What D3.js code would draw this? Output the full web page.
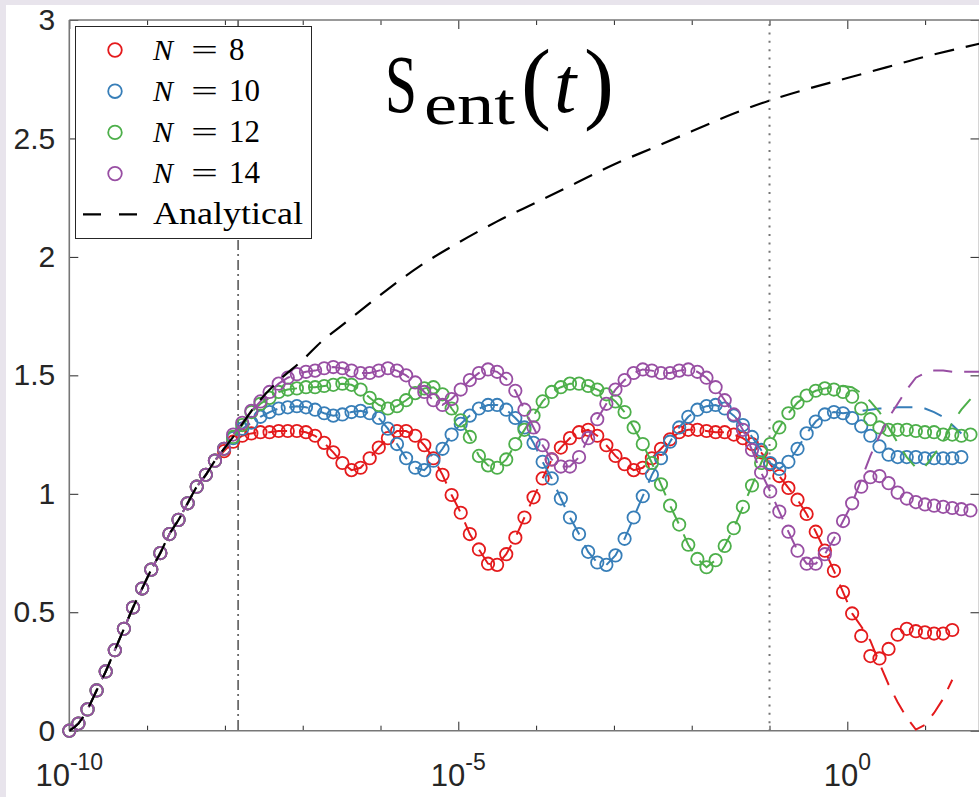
<!DOCTYPE html>
<html>
<head>
<meta charset="utf-8">
<script src="https://cdn.jsdelivr.net/npm/d3@7"></script>
<style>
  html, body { margin: 0; padding: 0; background: #e8e4ec; }
  svg { display: block; }
</style>
</head>
<body>
<svg id="chart" width="979" height="797"></svg>
<script>
// Sampling times (log10 t), shared by all system sizes
const logTime = [
  -10.000, -9.883, -9.766, -9.649, -9.532, -9.415, -9.298, -9.181, -9.064, -8.947,
  -8.830, -8.713, -8.596, -8.479, -8.362, -8.245, -8.128, -8.011, -7.894, -7.777,
  -7.660, -7.543, -7.426, -7.309, -7.192, -7.075, -6.958, -6.841, -6.724, -6.607,
  -6.490, -6.373, -6.256, -6.139, -6.022, -5.905, -5.788, -5.671, -5.554, -5.437,
  -5.320, -5.203, -5.086, -4.969, -4.852, -4.735, -4.618, -4.501, -4.384, -4.267,
  -4.150, -4.033, -3.916, -3.799, -3.682, -3.565, -3.448, -3.331, -3.214, -3.097,
  -2.980, -2.863, -2.746, -2.629, -2.512, -2.395, -2.278, -2.161, -2.044, -1.927,
  -1.810, -1.693, -1.576, -1.459, -1.342, -1.225, -1.108, -0.991, -0.874, -0.757,
  -0.640, -0.523, -0.406, -0.289, -0.172, -0.055, 0.062, 0.179, 0.296, 0.413,
  0.530, 0.647, 0.764, 0.881, 0.998, 1.115, 1.232, 1.349, 1.466, 1.583,
  1.700
];

// Numerical entanglement entropy, one array per system size
const entropyN8 = [
  0.00, 0.03, 0.09, 0.17, 0.25, 0.34, 0.43, 0.52, 0.60, 0.68,
  0.75, 0.83, 0.89, 0.96, 1.03, 1.08, 1.14, 1.18, 1.22, 1.245,
  1.255, 1.26, 1.26, 1.265, 1.265, 1.265, 1.26, 1.245, 1.215, 1.175,
  1.13, 1.10, 1.11, 1.15, 1.195, 1.235, 1.265, 1.265, 1.245, 1.205,
  1.15, 1.08, 0.995, 0.92, 0.83, 0.765, 0.705, 0.70, 0.745, 0.815,
  0.90, 0.985, 1.065, 1.145, 1.195, 1.235, 1.26, 1.27, 1.245, 1.205,
  1.16, 1.125, 1.10, 1.11, 1.15, 1.19, 1.23, 1.26, 1.27, 1.27,
  1.265, 1.26, 1.26, 1.25, 1.235, 1.21, 1.175, 1.125, 1.075, 1.025,
  0.975, 0.915, 0.84, 0.76, 0.675, 0.585, 0.495, 0.40, 0.315, 0.305,
  0.345, 0.405, 0.43, 0.42, 0.415, 0.41, 0.41, 0.425
];
const entropyN10 = [
  0.00, 0.03, 0.09, 0.17, 0.25, 0.34, 0.43, 0.52, 0.60, 0.68,
  0.75, 0.83, 0.89, 0.96, 1.03, 1.08, 1.14, 1.19, 1.235, 1.275,
  1.30, 1.325, 1.345, 1.36, 1.365, 1.37, 1.365, 1.355, 1.34, 1.33,
  1.335, 1.345, 1.35, 1.34, 1.32, 1.275, 1.21, 1.15, 1.11, 1.10,
  1.14, 1.19, 1.25, 1.295, 1.33, 1.36, 1.375, 1.375, 1.355, 1.32,
  1.28, 1.215, 1.135, 1.065, 0.98, 0.90, 0.83, 0.755, 0.71, 0.70,
  0.74, 0.81, 0.90, 0.99, 1.08, 1.15, 1.22, 1.28, 1.325, 1.355,
  1.37, 1.375, 1.36, 1.33, 1.29, 1.24, 1.185, 1.13, 1.105, 1.135,
  1.19, 1.255, 1.305, 1.335, 1.345, 1.34, 1.32, 1.285, 1.245, 1.20,
  1.165, 1.155, 1.155, 1.155, 1.15, 1.15, 1.15, 1.15, 1.155
];
const entropyN12 = [
  0.00, 0.03, 0.09, 0.17, 0.25, 0.34, 0.43, 0.52, 0.60, 0.68,
  0.75, 0.83, 0.89, 0.96, 1.03, 1.08, 1.14, 1.19, 1.24, 1.29,
  1.345, 1.38, 1.405, 1.43, 1.44, 1.445, 1.45, 1.45, 1.455, 1.46,
  1.465, 1.46, 1.44, 1.405, 1.375, 1.36, 1.37, 1.395, 1.425, 1.445,
  1.45, 1.42, 1.36, 1.31, 1.24, 1.16, 1.12, 1.11, 1.145, 1.21,
  1.27, 1.33, 1.39, 1.43, 1.45, 1.465, 1.465, 1.455, 1.44, 1.42,
  1.39, 1.345, 1.28, 1.21, 1.13, 1.04, 0.95, 0.87, 0.785, 0.725,
  0.69, 0.72, 0.78, 0.855, 0.945, 1.035, 1.13, 1.21, 1.28, 1.34,
  1.385, 1.415, 1.435, 1.445, 1.44, 1.43, 1.41, 1.36, 1.315, 1.28,
  1.27, 1.27, 1.27, 1.265, 1.26, 1.26, 1.25, 1.25, 1.245, 1.25
];
const entropyN14 = [
  0.00, 0.03, 0.09, 0.17, 0.25, 0.34, 0.43, 0.52, 0.60, 0.68,
  0.75, 0.83, 0.89, 0.96, 1.03, 1.08, 1.14, 1.19, 1.25, 1.30,
  1.35, 1.39, 1.43, 1.465, 1.49, 1.505, 1.515, 1.52, 1.53, 1.535,
  1.53, 1.52, 1.51, 1.51, 1.52, 1.53, 1.52, 1.50, 1.47, 1.43,
  1.395, 1.375, 1.40, 1.44, 1.48, 1.51, 1.525, 1.515, 1.485, 1.435,
  1.355, 1.28, 1.205, 1.145, 1.115, 1.115, 1.155, 1.235, 1.315, 1.38,
  1.44, 1.48, 1.51, 1.525, 1.52, 1.51, 1.51, 1.52, 1.525, 1.515,
  1.49, 1.45, 1.395, 1.335, 1.27, 1.185, 1.09, 1.01, 0.925, 0.84,
  0.76, 0.705, 0.705, 0.745, 0.81, 0.885, 0.96, 1.03, 1.07, 1.075,
  1.045, 1.005, 0.98, 0.965, 0.955, 0.95, 0.945, 0.94, 0.935, 0.93
];

// Finite-size analytical prediction: identical to the numerics up to a
// start index, then its own late-time values
const analyticStart = [86, 86, 84, 87];
const analyticTailN8 = [0.495, 0.44, 0.38, 0.285, 0.195, 0.12, 0.055, 0.005, 0.025, 0.075, 0.135, 0.215];
const analyticTailN10 = [1.345, 1.35, 1.355, 1.36, 1.36, 1.365, 1.365, 1.365, 1.36, 1.345, 1.325, 1.29, 1.255];
const analyticTailN12 = [1.45, 1.455, 1.45, 1.425, 1.39, 1.345, 1.28, 1.215, 1.155, 1.11, 1.115, 1.165, 1.22, 1.30, 1.355, 1.40];
const analyticTailN14 = [1.06, 1.16, 1.245, 1.32, 1.38, 1.44, 1.49, 1.51, 1.52, 1.52, 1.515, 1.515, 1.515, 1.515];

// Thermodynamic-limit analytical curve
const infLogTime = [
  -10.0, -9.883, -9.766, -9.649, -9.532, -9.415, -9.298, -9.181, -9.064, -8.947,
  -8.83, -8.713, -8.596, -8.479, -8.362, -8.245, -8.128, -8.011, -7.894, -7.6,
  -7.3, -7.0, -6.75, -6.5, -6.0, -5.5, -5.0, -4.5, -4.0, -3.5,
  -3.0, -2.5, -2.0, -1.5, -1.0, -0.5, 0.0, 0.5, 1.0, 1.5, 1.7
];
const infEntropy = [
  0.00, 0.03, 0.09, 0.17, 0.25, 0.34, 0.43, 0.52, 0.60, 0.68,
  0.75, 0.83, 0.89, 0.96, 1.03, 1.08, 1.14, 1.19, 1.24, 1.375,
  1.48, 1.565, 1.645, 1.71, 1.84, 1.96, 2.06, 2.15, 2.23, 2.31,
  2.39, 2.46, 2.53, 2.60, 2.66, 2.71, 2.755, 2.80, 2.845, 2.885, 2.90
];

const systemSizes = [8, 10, 12, 14];
const seriesColors = ["#e41a1c", "#377eb8", "#4daf4a", "#984ea3"];
const guideLogTime = [-7.83, -1.0];          // dash-dot and dotted markers
const yTicks = [0, 0.5, 1, 1.5, 2, 2.5, 3];
const yTickLabels = ["0", "0.5", "1", "1.5", "2", "2.5", "3"];
const xMajorExp = [-10, -5, 0];
const xMinorExp = [-9, -8, -7, -6, -4, -3, -2, -1, 1];

const numerics = [entropyN8, entropyN10, entropyN12, entropyN14];
const tails = [analyticTailN8, analyticTailN10, analyticTailN12, analyticTailN14];
const analytic = numerics.map((v, k) => v.slice(0, analyticStart[k]).concat(tails[k]));

const svg = d3.select("#chart");
const box = { left: 69.3, right: 979.5, top: 20, bottom: 730.7 };

const x = d3.scaleLog().domain([1e-10, 50]).range([box.left, box.right]);
const y = d3.scaleLinear().domain([0, 3]).range([box.bottom, box.top]);

// panel
svg.append("rect").attr("x", 6).attr("y", 5).attr("width", 973).attr("height", 792).attr("fill", "#ffffff");

const tickFont = "'Liberation Sans', Arial, Helvetica, sans-serif";
const serif = "'Liberation Serif', 'DejaVu Serif', 'Times New Roman', serif";

// axes ticks
function styleAxis(g) {
  g.select(".domain").remove();
  g.selectAll(".tick line").attr("stroke", "#262626").attr("stroke-width", 1);
}
const decades = e => Math.pow(10, e);
svg.append("g").attr("transform", `translate(0,${box.bottom})`)
  .call(d3.axisTop(x).tickValues(xMinorExp.map(decades)).tickSize(5).tickFormat(""))
  .call(styleAxis);
svg.append("g").attr("transform", `translate(0,${box.bottom})`)
  .call(d3.axisTop(x).tickValues(xMajorExp.map(decades)).tickSize(9).tickFormat(""))
  .call(styleAxis);
svg.append("g").attr("transform", `translate(0,${box.top})`)
  .call(d3.axisBottom(x).tickValues(xMinorExp.map(decades)).tickSize(5).tickFormat(""))
  .call(styleAxis);
svg.append("g").attr("transform", `translate(0,${box.top})`)
  .call(d3.axisBottom(x).tickValues(xMajorExp.map(decades)).tickSize(9).tickFormat(""))
  .call(styleAxis);
svg.append("g").attr("transform", `translate(${box.right},0)`)
  .call(d3.axisLeft(y).tickValues(yTicks).tickSize(9).tickFormat(""))
  .call(styleAxis);
const yAxis = svg.append("g").attr("transform", `translate(${box.left},0)`)
  .call(d3.axisLeft(y).tickValues(yTicks).tickSizeInner(-9).tickSizeOuter(0).tickPadding(14)
    .tickFormat((d, i) => yTickLabels[i]))
  .call(styleAxis);
yAxis.selectAll("text")
  .attr("font-family", tickFont).attr("font-size", 30).attr("fill", "#262626");

// x tick labels with exponent
const xl = svg.append("g");
xMajorExp.forEach(e => {
  const t = xl.append("text")
    .attr("x", x(decades(e))).attr("y", 786)
    .attr("text-anchor", "middle")
    .attr("font-family", tickFont).attr("font-size", 31).attr("fill", "#262626");
  t.append("tspan").text("10");
  t.append("tspan").attr("dy", -16).attr("font-size", 23).text(String(e));
});

// box
const frame = svg.append("g").attr("fill", "none").attr("stroke", "#777").attr("stroke-width", 1.6);
frame.append("line").attr("x1", box.left).attr("x2", box.left).attr("y1", box.top).attr("y2", box.bottom);
frame.append("line").attr("x1", box.left).attr("x2", box.right).attr("y1", box.bottom).attr("y2", box.bottom);
frame.append("line").attr("x1", box.left).attr("x2", box.right).attr("y1", box.top).attr("y2", box.top);
frame.append("line").attr("x1", box.right).attr("x2", box.right).attr("y1", box.top).attr("y2", box.bottom);

// guide lines
svg.append("line")
  .attr("x1", x(decades(guideLogTime[0]))).attr("x2", x(decades(guideLogTime[0])))
  .attr("y1", box.top).attr("y2", box.bottom)
  .attr("stroke", "#6a6a6a").attr("stroke-width", 1.8).attr("stroke-dasharray", "10,4,2,4");
svg.append("line")
  .attr("x1", x(decades(guideLogTime[1]))).attr("x2", x(decades(guideLogTime[1])))
  .attr("y1", box.top + 4).attr("y2", box.bottom)
  .attr("stroke", "#767676").attr("stroke-width", 2).attr("stroke-dasharray", "2,6.4");

svg.append("clipPath").attr("id", "plotClip").append("rect")
  .attr("x", box.left).attr("y", box.top - 10).attr("width", box.right - box.left).attr("height", box.bottom - box.top + 20);

const line = d3.line()
  .x((d, i) => x(decades(logTime[i])))
  .y(d => y(d));

const data = svg.append("g");
numerics.forEach((vals, k) => {
  const col = seriesColors[k];
  data.append("g").selectAll("circle").data(vals).join("circle")
    .attr("cx", (d, i) => x(decades(logTime[i])))
    .attr("cy", d => y(d))
    .attr("r", 6.2)
    .attr("fill", "none").attr("stroke", col).attr("stroke-width", 1.8);
  data.append("path").datum(analytic[k])
    .attr("clip-path", "url(#plotClip)")
    .attr("d", line)
    .attr("fill", "none").attr("stroke", col).attr("stroke-width", 2)
    .attr("stroke-dasharray", "19,12");
});

// infinite-size analytical curve
svg.append("path").datum(infEntropy)
  .attr("clip-path", "url(#plotClip)")
  .attr("d", d3.line().curve(d3.curveMonotoneX)
    .x((d, i) => x(decades(infLogTime[i]))).y(d => y(d)))
  .attr("fill", "none").attr("stroke", "#000").attr("stroke-width", 2.2)
  .attr("stroke-dasharray", "20,12");

// title: S_ent(t), one text element with positioned pieces
const title = svg.append("text").attr("font-family", serif).attr("font-weight", "normal").attr("fill", "#000");
title.append("tspan").attr("x", 385).attr("y", 112).attr("font-size", 82)
  .attr("textLength", 32).attr("lengthAdjust", "spacingAndGlyphs").text("S");
title.append("tspan").attr("x", 424).attr("y", 124).attr("font-size", 60)
  .attr("textLength", 91).attr("lengthAdjust", "spacingAndGlyphs").text("ent");
title.append("tspan").attr("x", 521).attr("y", 112).attr("font-size", 90).text("(");
title.append("tspan").attr("x", 554).attr("y", 112).attr("font-size", 80).attr("font-style", "italic").text("t");
title.append("tspan").attr("x", 584).attr("y", 112).attr("font-size", 90).text(")");

// legend
const lg = svg.append("g");
lg.append("rect").attr("x", 75.5).attr("y", 26.5).attr("width", 236).attr("height", 212)
  .attr("fill", "#fff").attr("stroke", "#262626").attr("stroke-width", 1);
const rowY = [50, 91.2, 132.4, 173.6];
systemSizes.forEach((n, k) => {
  lg.append("circle").attr("cx", 115).attr("cy", rowY[k]).attr("r", 6.8)
    .attr("fill", "none").attr("stroke", seriesColors[k]).attr("stroke-width", 1.8);
  const base = rowY[k] + 9.5;
  const label = lg.append("text").attr("y", base).attr("font-family", serif).attr("font-size", 30);
  label.append("tspan").attr("x", 153).attr("font-style", "italic").text("N");
  label.append("tspan").attr("x", 191).attr("textLength", 27).attr("lengthAdjust", "spacingAndGlyphs").text("=");
  label.append("tspan").attr("x", 229).attr("font-size", 31).text(String(n));
});
lg.append("line").attr("x1", 83).attr("x2", 137).attr("y1", 214.3).attr("y2", 214.3)
  .attr("stroke", "#000").attr("stroke-width", 2.2).attr("stroke-dasharray", "18,18");
lg.append("text").attr("x", 153).attr("y", 223.5).attr("font-family", serif)
  .attr("font-size", 31).attr("textLength", 150).attr("lengthAdjust", "spacingAndGlyphs").text("Analytical");
</script>
</body>
</html>
